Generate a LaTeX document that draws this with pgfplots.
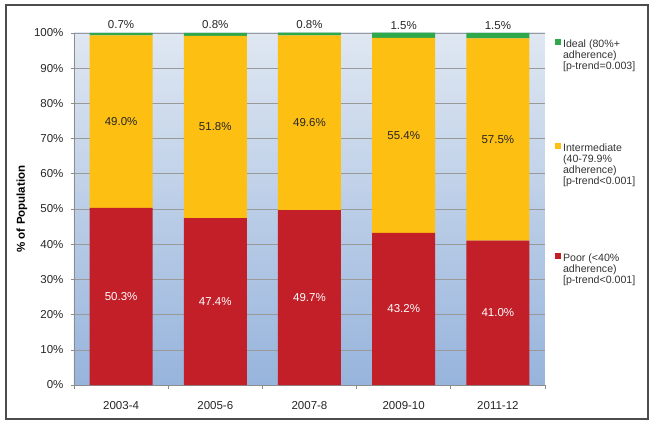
\documentclass[border=0pt]{standalone}
\usepackage{pgfplots}
\pgfplotsset{compat=1.18}
\usepackage{fontspec}
\setmainfont{Liberation Sans}
\definecolor{poor}{HTML}{C21F29}
\definecolor{inter}{HTML}{FDBF12}
\definecolor{ideal}{HTML}{2EA84A}
\definecolor{bgtop}{HTML}{DFE7F2}
\definecolor{bgbot}{HTML}{97B4DC}
\pgfplotsset{
  base/.style={at={(0,0)}, anchor=south west, scale only axis, width=471pt, height=352pt,
    xmin=-0.5, xmax=4.5, ymin=0, ymax=100, enlargelimits=false},
  leg/.style={base, hide axis,
    legend cell align=left,
    legend style={at={(rel axis cs:1,1)}, anchor=north west, xshift=10pt, yshift=#1,
      draw=none, fill=none, inner sep=0pt,
      font=\fontsize{10.6}{11}\selectfont, text=black!80,
      nodes={inner xsep=2.5pt, inner ysep=0pt}},
    legend image code/.code={\fill[##1] (0pt,0.5pt) rectangle (5pt,5.5pt);}},
  lab/.style={nodes near coords={\pgfmathprintnumber[fixed,fixed zerofill,precision=1]{\pgfplotspointmeta}\%},
    point meta=rawy,
    nodes near coords style={font=\fontsize{11.5}{13}\selectfont, anchor=center}},
}
\begin{document}
\begin{tikzpicture}[x=1pt,y=1pt]
\useasboundingbox (-74,-41) rectangle (580,385);
\draw[line width=1.3pt, color=black!70] (-68,-34) rectangle (574,380);
\begin{axis}[
  base,
  ybar stacked, bar width=63pt,
  clip=false,
  axis lines*=left,
  axis line style={draw=black!45, line width=0.6pt},
  xtick={0,1,2,3,4},
  xticklabels={2003-4,2005-6,2007-8,2009-10,2011-12},
  major x tick style={draw=none},
  minor xtick={-0.5,0.5,1.5,2.5,3.5,4.5},
  minor tick length=4pt,
  minor x tick style={draw=black!45, line width=0.6pt},
  ytick={0,10,...,100},
  yticklabel={\pgfmathprintnumber{\tick}\%},
  /pgf/number format/assume math mode=true,
  tick align=outside,
  major tick length=3pt,
  major y tick style={draw=black!45, line width=0.6pt},
  ymajorgrids,
  grid style={draw=black!40, line width=0.6pt},
  tick label style={font=\fontsize{11.5}{13}\selectfont, text=black!85},
  xticklabel style={yshift=-10pt},
  yticklabel style={xshift=-4pt},
  axis background/.style={top color=bgtop, bottom color=bgbot},
  every axis y label/.style={at={(rel axis cs:0,0.5)}, xshift=-52pt, rotate=90, anchor=center, font=\fontsize{11.5}{13}\selectfont\bfseries},
  ylabel={\% of Population},
]
\addplot[fill=poor, draw=none, lab, nodes near coords style={text=white}]
  coordinates {(0,50.3) (1,47.4) (2,49.7) (3,43.2) (4,41.0)};
\addplot[fill=inter, draw=none, lab, nodes near coords style={text=black!85}]
  coordinates {(0,49.0) (1,51.8) (2,49.6) (3,55.4) (4,57.5)};
\addplot[fill=ideal, draw=none, lab, nodes near coords style={text=black!85, yshift=10pt}]
  coordinates {(0,0.7) (1,0.8) (2,0.8) (3,1.5) (4,1.5)};
\end{axis}
\begin{axis}[leg=-6pt]
\addlegendimage{ideal}
\addlegendentry{\begin{tabular}[t]{@{}l@{}}Ideal (80\%+\\adherence)\\{}[p-trend=0.003]\end{tabular}}
\end{axis}
\begin{axis}[leg=-110pt]
\addlegendimage{inter}
\addlegendentry{\begin{tabular}[t]{@{}l@{}}Intermediate\\(40-79.9\%\\adherence)\\{}[p-trend<0.001]\end{tabular}}
\end{axis}
\begin{axis}[leg=-220pt]
\addlegendimage{poor}
\addlegendentry{\begin{tabular}[t]{@{}l@{}}Poor (<40\%\\adherence)\\{}[p-trend<0.001]\end{tabular}}
\end{axis}
\end{tikzpicture}
\end{document}
